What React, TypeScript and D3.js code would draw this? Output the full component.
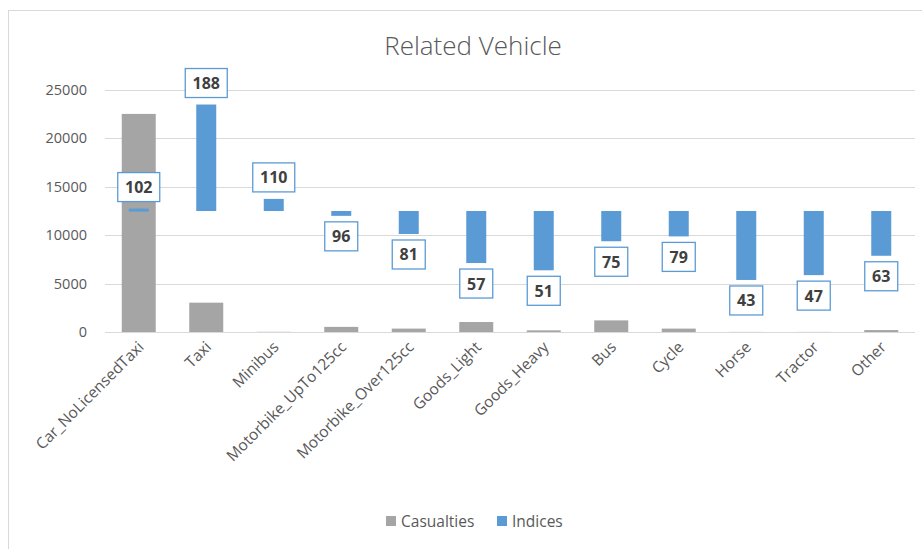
import { useEffect, useRef } from "react";
import * as d3 from "d3";

const categories = [
  "Car_NoLicensedTaxi",
  "Taxi",
  "Minibus",
  "Motorbike_UpTo125cc",
  "Motorbike_Over125cc",
  "Goods_Light",
  "Goods_Heavy",
  "Bus",
  "Cycle",
  "Horse",
  "Tractor",
  "Other",
];
const casualties = [22530, 3030, 20, 530, 350, 1030, 170, 1200, 350, 10, 10, 200];
const indices = [102, 188, 110, 96, 81, 57, 51, 75, 79, 43, 47, 63];
const yTicks = [0, 5000, 10000, 15000, 20000, 25000];
const indexBase = 12500; // index 100 sits here
const indexUnit = 125;

const FONT = "'Open Sans', 'Noto Sans', sans-serif";

export default function App() {
  const svgRef = useRef<SVGSVGElement>(null);

  useEffect(() => {
    if (!svgRef.current) return;
    const root = d3.select(svgRef.current);
    root.selectAll("*").remove();

    const W = 922;
    const H = 549;
    root.attr("width", W).attr("height", H);

    // chart frame
    root
      .append("rect")
      .attr("x", 8.5)
      .attr("y", 10.5)
      .attr("width", 940)
      .attr("height", 560)
      .attr("fill", "#fff")
      .attr("stroke", "#d9d9d9");

    root
      .append("text")
      .attr("x", 473)
      .attr("y", 55)
      .attr("text-anchor", "middle")
      .style("font-family", FONT)
      .style("font-size", "26px")
      .style("font-weight", 300)
      .attr("fill", "#595959")
      .text("Related Vehicle");

    const x = d3.scaleBand<string>().domain(categories).range([105, 915]);
    const y = d3.scaleLinear().domain([0, 25000]).range([332, 90]);

    // gridlines
    root
      .append("g")
      .selectAll("line")
      .data(yTicks)
      .enter()
      .append("line")
      .attr("x1", 105)
      .attr("x2", 915)
      .attr("y1", (d) => Math.round(y(d)) + 0.5)
      .attr("y2", (d) => Math.round(y(d)) + 0.5)
      .attr("stroke", "#d9d9d9")
      .attr("stroke-width", 1.2);

    root
      .append("g")
      .selectAll("text")
      .data(yTicks)
      .enter()
      .append("text")
      .attr("x", 87)
      .attr("y", (d) => y(d) + 5)
      .attr("text-anchor", "end")
      .style("font-family", FONT)
      .style("font-size", "14.5px")
      .attr("fill", "#595959")
      .text((d) => String(d));

    const bw = x.bandwidth();

    // casualties
    root
      .append("g")
      .selectAll("rect")
      .data(casualties)
      .enter()
      .append("rect")
      .attr("x", (_, i) => x(categories[i])! + bw / 2 - 17)
      .attr("width", 34)
      .attr("y", (d) => y(d))
      .attr("height", (d) => y(0) - y(d))
      .attr("fill", "#a5a5a5");

    // indices float from the 100 line
    const idxY = (v: number) => y(v * indexUnit);
    root
      .append("g")
      .selectAll("rect")
      .data(indices)
      .enter()
      .append("rect")
      .attr("x", (_, i) => x(categories[i])! + bw / 2 - 10)
      .attr("width", 20)
      .attr("y", (d) => Math.min(idxY(d), y(indexBase)))
      .attr("height", (d) => Math.max(Math.abs(idxY(d) - y(indexBase)), 3))
      .attr("fill", "#5b9bd5");

    // labels
    const lab = root.append("g");
    indices.forEach((v, i) => {
      const cx = x(categories[i])! + bw / 2;
      const boxW = String(v).length === 3 ? 42 : 33;
      const boxH = 29;
      let top =
        v >= 100 ? Math.min(idxY(v), y(indexBase)) - 7 - boxH : Math.max(idxY(v), y(indexBase)) + 6;
      if (top < 67) top = 67;
      lab
        .append("rect")
        .attr("x", cx - boxW / 2)
        .attr("y", top)
        .attr("width", boxW)
        .attr("height", boxH)
        .attr("fill", "#fff")
        .attr("stroke", "#5b9bd5")
        .attr("stroke-width", 1.3);
      lab
        .append("text")
        .attr("x", cx)
        .attr("y", top + boxH / 2 + 6)
        .attr("text-anchor", "middle")
        .style("font-family", FONT)
        .style("font-size", "16px")
        .style("font-weight", 700)
        .attr("fill", "#404040")
        .text(String(v));
    });

    // category labels
    root
      .append("g")
      .selectAll("text")
      .data(categories)
      .enter()
      .append("text")
      .attr(
        "transform",
        (d) => `translate(${x(d)! + bw / 2 + 6},${348}) rotate(-45)`
      )
      .attr("text-anchor", "end")
      .style("font-family", FONT)
      .style("font-size", "15.5px")
      .attr("fill", "#595959")
      .text((d) => d);

    // legend
    const legend = [
      { name: "Casualties", color: "#a5a5a5", x: 386 },
      { name: "Indices", color: "#5b9bd5", x: 497 },
    ];
    const lg = root.append("g");
    legend.forEach((l) => {
      lg.append("rect")
        .attr("x", l.x)
        .attr("y", 516)
        .attr("width", 10)
        .attr("height", 10)
        .attr("fill", l.color);
      lg.append("text")
        .attr("x", l.x + 15)
        .attr("y", 527)
        .style("font-family", FONT)
        .style("font-size", "15.5px")
        .attr("fill", "#595959")
        .text(l.name);
    });
  }, []);

  return (
    <div style={{ position: "fixed", left: 0, top: 0, width: 922, height: 549, overflow: "hidden" }}>
      <svg ref={svgRef}></svg>
    </div>
  );
}
